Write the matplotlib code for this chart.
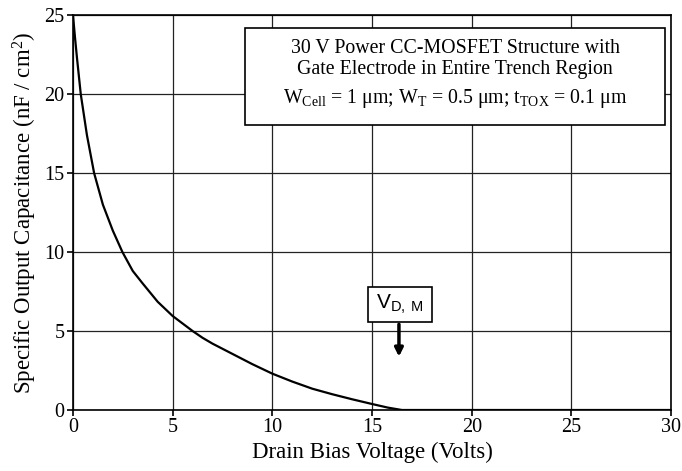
import matplotlib
matplotlib.use("Agg")
import matplotlib.pyplot as plt
from matplotlib.patches import Rectangle

# Output capacitance vs drain bias
drain_bias = [0, 0.1, 0.2, 0.39, 0.7, 1.06, 1.5, 2.0, 2.48, 3.0, 3.49, 4.25, 5, 6, 6.5, 7,
              8, 9, 10, 11, 12, 13, 14, 15, 15.8, 16.5, 20, 25, 30]
capacitance = [25, 23.6, 22.3, 20, 17.4, 15, 13.0, 11.35, 10, 8.8, 8.02, 6.85, 5.95, 5.0,
               4.57, 4.2, 3.55, 2.9, 2.3, 1.8, 1.35, 1.0, 0.68, 0.38, 0.15, 0, 0, 0, 0]

x_ticks = [0, 5, 10, 15, 20, 25, 30]
y_ticks = [0, 5, 10, 15, 20, 25]
vdm_x = 16.35

plt.rcParams["font.family"] = ["Liberation Serif", "DejaVu Serif"]
plt.rcParams["mathtext.fontset"] = "custom"
plt.rcParams["mathtext.rm"] = "Liberation Serif"
plt.rcParams["mathtext.it"] = "Liberation Serif"
plt.rcParams["mathtext.sf"] = "Liberation Sans"

fig = plt.figure(figsize=(6.82, 4.71), dpi=100)
ax = fig.add_axes([0.107, 0.1295, 0.877, 0.8385])

ax.plot(drain_bias, capacitance, color="black", linewidth=1.6, solid_joinstyle="round")

ax.set_xlim(0, 30)
ax.set_ylim(0, 25)
ax.set_xticks(x_ticks)
ax.set_yticks(y_ticks)
ax.tick_params(labelsize=14.5, direction="out", length=4, width=1.2, pad=2)
ax.grid(True, color="#222222", linewidth=0.9)
for side in ax.spines.values():
    side.set_linewidth(1.2)

ax.set_xlabel("Drain Bias Voltage (Volts)", fontsize=16.5, labelpad=3)
ax.set_ylabel("Specific Output Capacitance (nF / cm$^2$)", fontsize=16.5, labelpad=4)

# Structure description box
ax.add_patch(Rectangle((0.288, 0.7215), 0.702, 0.2455, transform=ax.transAxes,
                       facecolor="white", edgecolor="black", linewidth=1.2, zorder=4))
ax.text(0.639, 0.916, "30 V Power CC-MOSFET Structure with", transform=ax.transAxes,
        ha="center", va="center", fontsize=14.3, zorder=5)
ax.text(0.639, 0.861, "Gate Electrode in Entire Trench Region", transform=ax.transAxes,
        ha="center", va="center", fontsize=14.3, zorder=5)
ax.text(0.639, 0.79,
        r"W$_{\mathrm{Cell}}$ = 1 $\mathrm{\mu}$m; W$_\mathrm{T}$ = 0.5 $\mathrm{\mu}$m; "
        r"t$_{\mathrm{TOX}}$ = 0.1 $\mathrm{\mu}$m",
        transform=ax.transAxes, ha="center", va="center", fontsize=14.3, zorder=5)

# V_D,M marker
ax.annotate("", xy=(vdm_x, 3.2), xytext=(vdm_x, 5.6),
            arrowprops=dict(arrowstyle="-|>", color="black", linewidth=2.5, mutation_scale=12))
ax.add_patch(Rectangle((14.8, 5.6), 3.2, 2.2, facecolor="white", edgecolor="black",
                       linewidth=1.2, zorder=4))
ax.text(16.4, 6.75, r"$\mathsf{V}_{\mathsf{D,\ M}}$", ha="center", va="center",
        fontsize=15, zorder=5)

fig.savefig("out.png", dpi=100)
